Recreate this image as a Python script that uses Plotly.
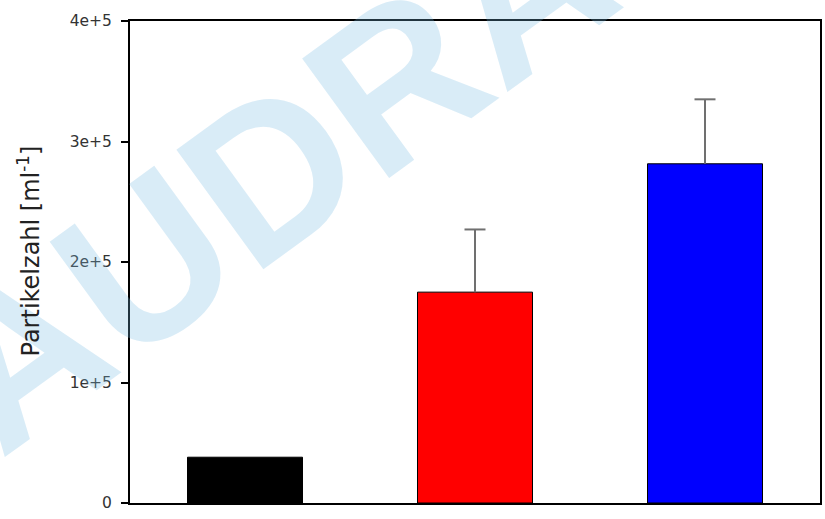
import plotly.graph_objects as go

categories = ["A", "B", "C"]
values = [38000, 175000, 281500]
errors_plus = [None, 52000, 53500]
bar_colors = ["#000000", "#ff0000", "#0000ff"]
tick_vals = [0, 100000, 200000, 300000, 400000]
tick_text = ["0", "1e+5", "2e+5", "3e+5", "4e+5"]
y_title = "Partikelzahl [ml<sup>-1</sup>]"
watermark = "EAUDRA"

fig = go.Figure()
fig.add_trace(go.Bar(
    x=categories, y=values, width=0.5,
    marker=dict(color=bar_colors, line=dict(color="#000000", width=1)),
    showlegend=False, hoverinfo="skip",
))

err_x = [c for c, e in zip(categories, errors_plus) if e is not None]
err_top = [v + e for v, e in zip(values, errors_plus) if e is not None]
err_len = [e for e in errors_plus if e is not None]
fig.add_trace(go.Scatter(
    x=err_x, y=err_top, mode="markers",
    marker=dict(symbol="line-ew-open", size=15, color="#707070",
                line=dict(color="#707070", width=2)),
    error_y=dict(type="data", symmetric=False, array=[0] * len(err_len),
                 arrayminus=err_len, width=0, thickness=2, color="#707070"),
    showlegend=False, hoverinfo="skip",
))

fig.add_annotation(
    text=watermark, xref="paper", yref="paper", x=0.121, y=0.60,
    xanchor="center", yanchor="middle",
    showarrow=False, textangle=-36,
    font=dict(family="Liberation Sans", size=215, color="rgba(120,185,225,0.28)",
              weight="bold"),
)

fig.add_annotation(
    text=y_title, xref="paper", yref="paper", x=-0.147, y=0.523,
    xanchor="center", yanchor="middle", showarrow=False, textangle=-90,
    font=dict(family="DejaVu Sans", size=24, color="#222222"),
)

fig.update_layout(
    width=825, height=519,
    margin=dict(l=130, r=3, t=21, b=16),
    paper_bgcolor="white", plot_bgcolor="white",
    font=dict(family="DejaVu Sans", color="#222222"),
)
fig.update_xaxes(
    range=[-0.5, 2.5], showticklabels=False, ticks="",
    showline=True, linecolor="#000000", linewidth=2, mirror=True,
    showgrid=False, zeroline=False,
)
fig.update_yaxes(
    range=[0, 400000], tickvals=tick_vals, ticktext=tick_text,
    ticks="outside", ticklen=7, tickwidth=1.5, tickcolor="#000000",
    tickfont=dict(family="DejaVu Sans", size=15.5, color="#333333"),
    ticklabelstandoff=6,
    showline=True, linecolor="#000000", linewidth=2, mirror=True,
    showgrid=False, zeroline=False,
)

fig.write_html("out.html")
